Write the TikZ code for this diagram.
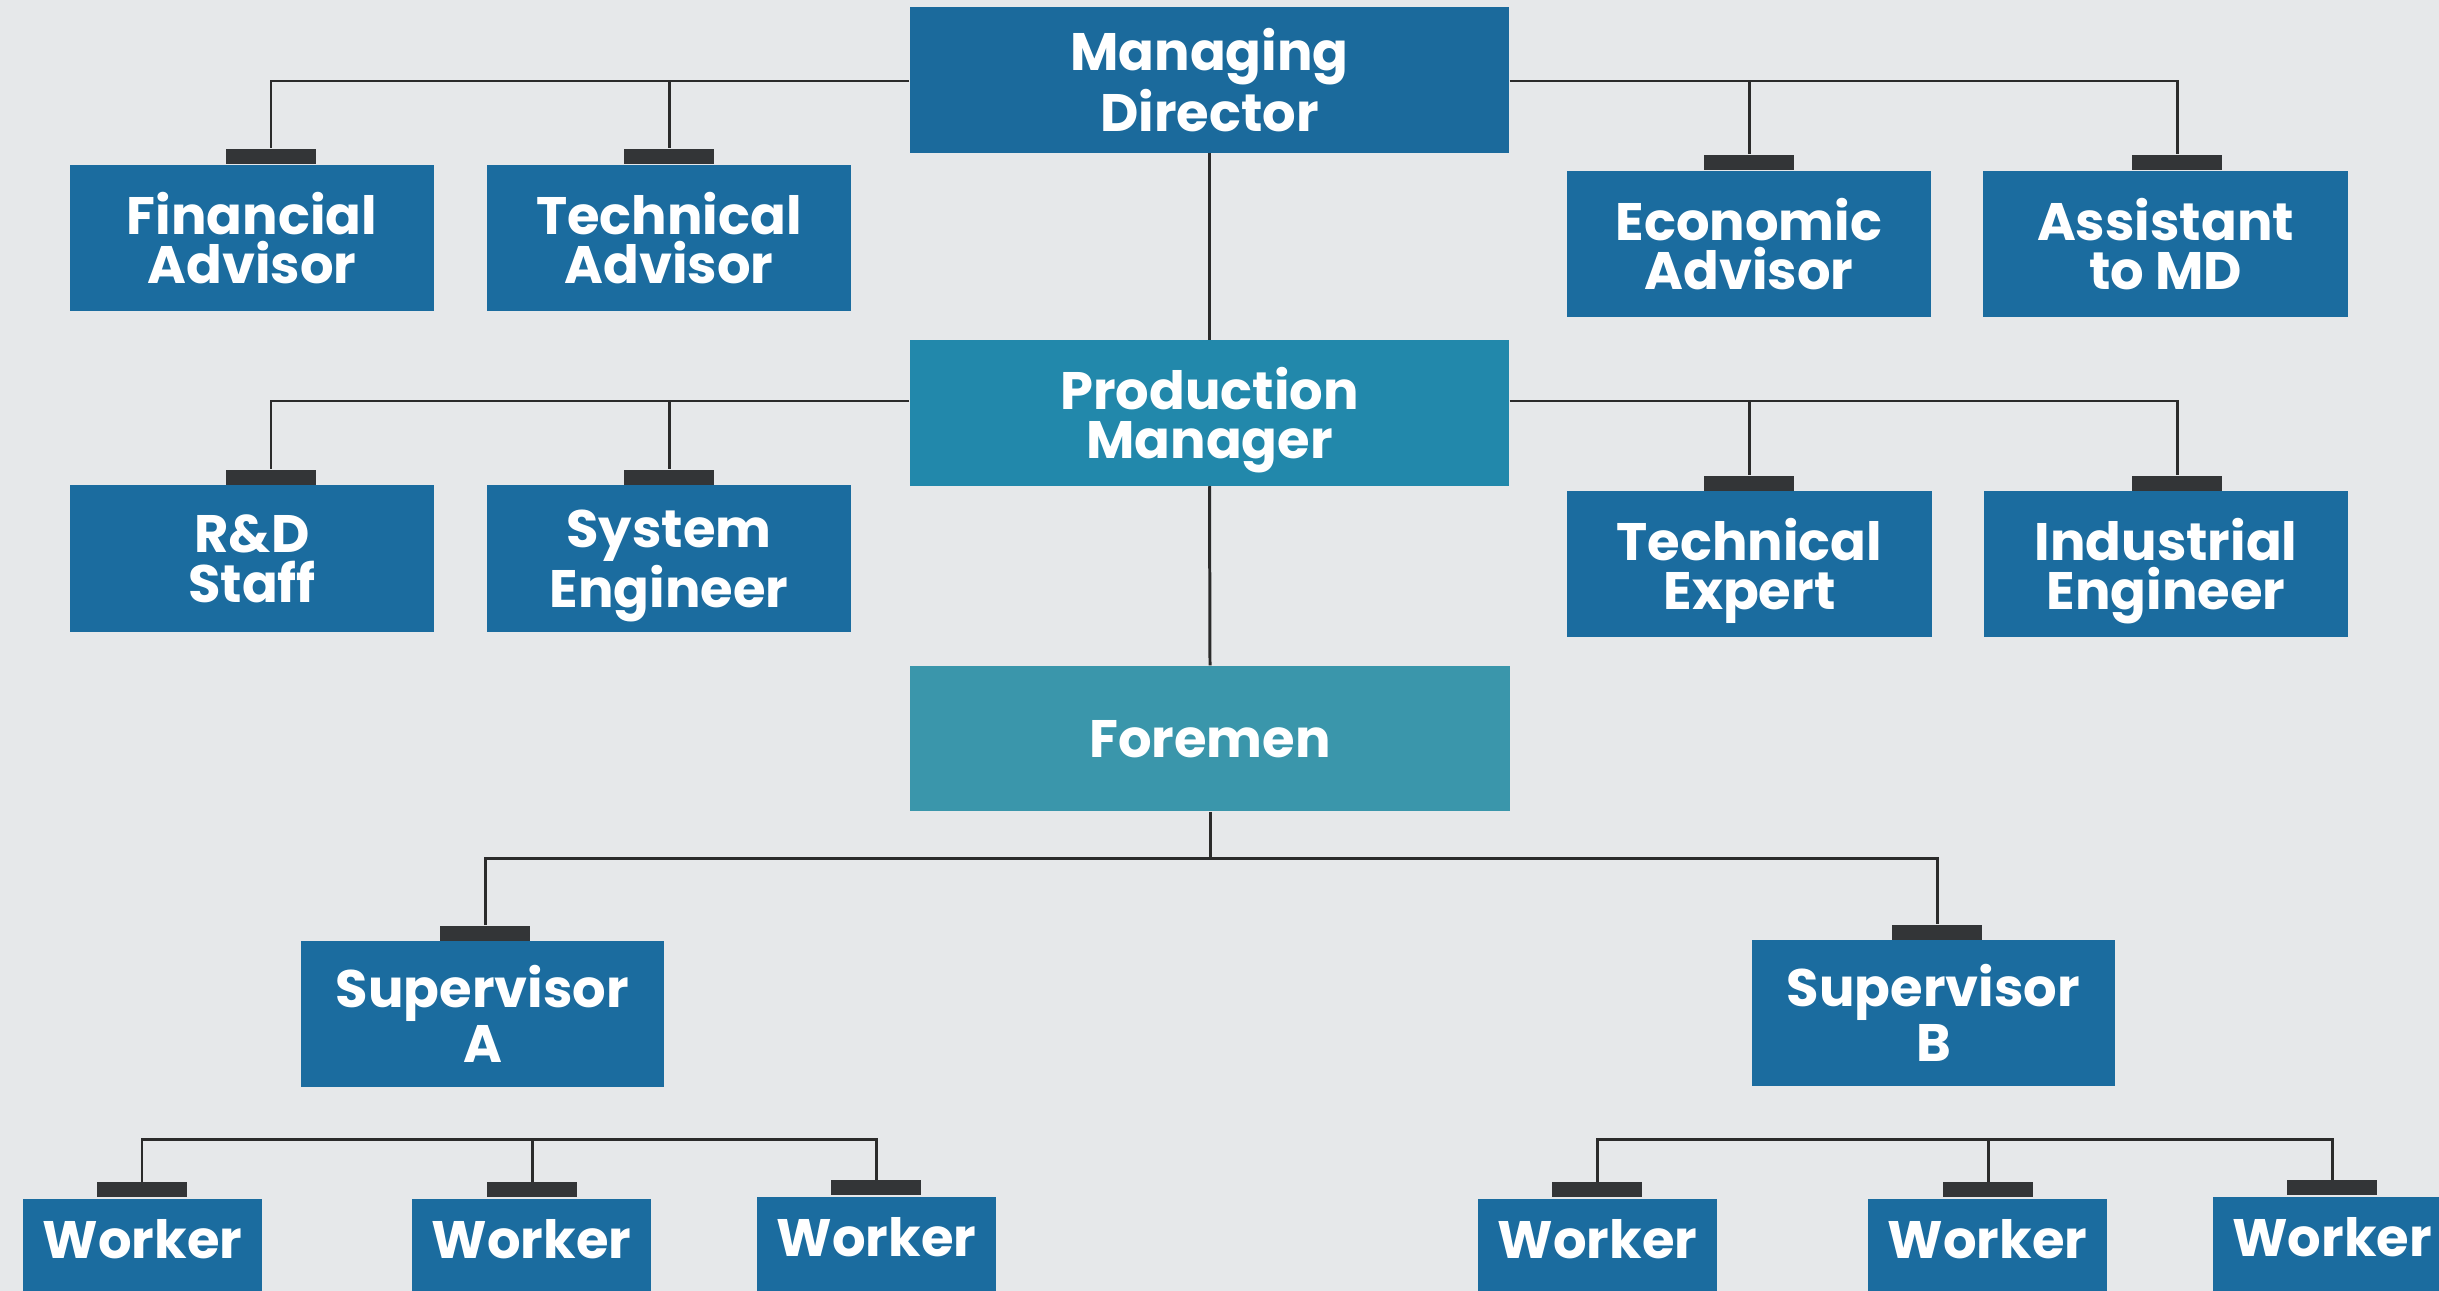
\documentclass[tikz,border=0pt]{standalone}
\usepackage{fontspec}
\setmainfont{Poppins}
\definecolor{bgcol}{HTML}{E6E8EA}
\definecolor{boxblue}{HTML}{1B6C9F}
\definecolor{mdblue}{HTML}{1B6A9C}
\definecolor{pmblue}{HTML}{2288AB}
\definecolor{fmteal}{HTML}{3A96AB}
\definecolor{hatgray}{HTML}{333537}
\definecolor{linegray}{HTML}{2B2B2B}
\tikzset{
  box/.style={rectangle, fill=boxblue, text=white, align=center,
    font=\fontsize{15}{14}\selectfont\bfseries, inner sep=0pt, text depth=0pt,
    minimum width=3.64cm, minimum height=1.46cm},
  bigbox/.style={box, minimum width=5.99cm, minimum height=1.45cm},
  workerbox/.style={box, anchor=north, minimum width=2.38cm, minimum height=0pt,
    text height=0.60cm, text depth=0.45cm},
  hat/.style={rectangle, fill=hatgray, inner sep=0pt, anchor=south,
    minimum width=0.90cm, minimum height=0.15cm},
  link/.style={draw=linegray, line width=0.85pt}
}
\begin{document}
\begin{tikzpicture}[x=0.01cm, y=-0.01cm]
\useasboundingbox (0,0) rectangle (2439,1291);
\fill[bgcol] (0,0) rectangle (2439,1291);

% top level and advisors
\node[bigbox, fill=mdblue] (md) at (1209.5,80) {Managing\\Director};
\node[box] (fa) at (252,238)  {Financial\\Advisor};
\node[box] (ta) at (669,238)  {Technical\\Advisor};
\node[box] (ea) at (1749,244) {Economic\\Advisor};
\node[box] (as) at (2165.5,244) {Assistant\\to MD};
\node[hat] (fah) at (271,164.5) {};
\node[hat] (tah) at (669,164.5) {};
\node[hat] (eah) at (1749,170.5) {};
\node[hat] (ash) at (2177,170.5) {};

% production level
\node[bigbox, fill=pmblue] (pm) at (1209.5,413) {Production\\Manager};
\node[box] (rd) at (252,558.5)    {R\&D\\Staff};
\node[box] (se) at (669,558.5)    {System\\Engineer};
\node[box] (te) at (1749.5,564) {Technical\\Expert};
\node[box] (ie) at (2166,564) {Industrial\\Engineer};
\node[hat] (rdh) at (271,485.5) {};
\node[hat] (seh) at (669,485.5) {};
\node[hat] (teh) at (1749,491.5) {};
\node[hat] (ieh) at (2177,491.5) {};

% foremen and supervisors
\node[bigbox, fill=fmteal, minimum width=6.00cm] (fm) at (1210,738.5) {Foremen};
\node[box, minimum width=3.63cm, minimum height=1.45cm] (sa) at (482.5,1014) {Supervisor\\A};
\node[box, minimum width=3.63cm, minimum height=1.45cm] (sb) at (1933.5,1013) {Supervisor\\B};
\node[hat] (sah) at (485,941.5) {};
\node[hat] (sbh) at (1937,940.5) {};

% workers
\node[workerbox] (w1) at (142.5,1198) {Worker};
\node[workerbox] (w2) at (531.5,1198) {Worker};
\node[workerbox] (w3) at (876.5,1196) {Worker};
\node[workerbox] (w4) at (1597.5,1198) {Worker};
\node[workerbox] (w5) at (1987.5,1198) {Worker};
\node[workerbox] (w6) at (2332,1196) {Worker};
\node[hat] (w1h) at (142,1198) {};
\node[hat] (w2h) at (532,1198) {};
\node[hat] (w3h) at (876,1196) {};
\node[hat] (w4h) at (1597,1198) {};
\node[hat] (w5h) at (1988,1198) {};
\node[hat] (w6h) at (2332,1196) {};

% bus levels
\coordinate (mdrow) at (0,81);
\coordinate (pmrow) at (0,401);
\coordinate (fmrow) at (1210,858);
\coordinate (wrow) at (0,1139);

% connectors
\draw[link] (md.west |- mdrow) -| (fah.north);
\draw[link] (md.west |- mdrow) -| (tah.north);
\draw[link] (md.east |- mdrow) -| (eah.north);
\draw[link] (md.east |- mdrow) -| (ash.north);
\draw[link] (md.south) -- (pm.north);

\draw[link] (pm.west |- pmrow) -| (rdh.north);
\draw[link] (pm.west |- pmrow) -| (seh.north);
\draw[link] (pm.east |- pmrow) -| (teh.north);
\draw[link] (pm.east |- pmrow) -| (ieh.north);
\draw[link] (pm.south) -- (fm.north);

\draw[link] (fm.south) -- (fmrow);
\draw[link] (sah.north) |- (fmrow) -| (sbh.north);

\draw[link] (w1h.north) |- (w2h.north |- wrow) -| (w3h.north);
\draw[link] (w2h.north) -- (w2h.north |- wrow);
\draw[link] (w4h.north) |- (w5h.north |- wrow) -| (w6h.north);
\draw[link] (w5h.north) -- (w5h.north |- wrow);
\end{tikzpicture}
\end{document}
